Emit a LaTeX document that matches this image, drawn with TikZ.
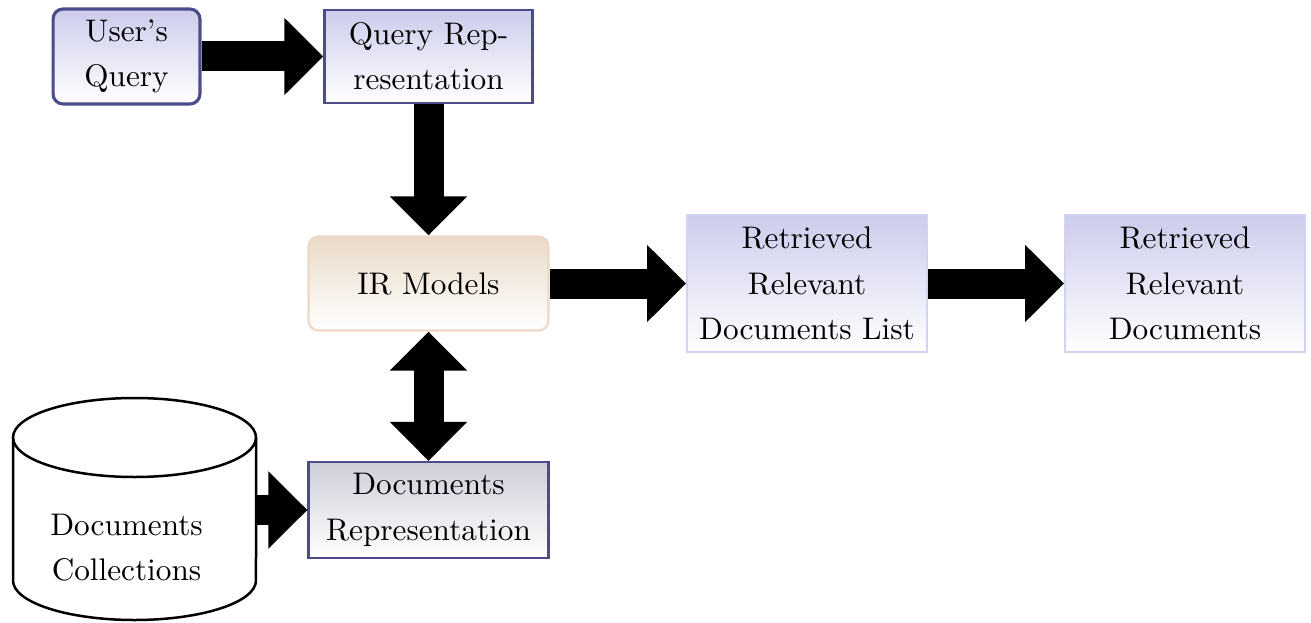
\documentclass[tikz,border=0pt]{standalone}
\usetikzlibrary{arrows.meta}
\definecolor{edgeblue}{RGB}{76,76,140}
\definecolor{lavtop}{RGB}{204,204,236}
\definecolor{lavedge}{RGB}{210,210,242}
\definecolor{tantop}{RGB}{234,218,200}
\definecolor{tanedge}{RGB}{236,216,196}
\definecolor{greytop}{RGB}{206,206,218}
\tikzset{
  boxtext/.style={font=\fontsize{10}{14.5}\selectfont, align=center, inner sep=0pt},
  querybox/.style={boxtext, draw=edgeblue, line width=1pt, rounded corners=3.2pt,
    top color=lavtop, bottom color=white, minimum width=47pt, minimum height=30.4pt},
  repbox/.style={boxtext, draw=edgeblue, line width=0.7pt,
    top color=lavtop, bottom color=white},
  docrepbox/.style={boxtext, draw=edgeblue, line width=0.7pt,
    top color=greytop, bottom color=white, minimum width=76.8pt, minimum height=30.7pt},
  modelbox/.style={boxtext, draw=tanedge, line width=0.7pt, rounded corners=3.2pt,
    top color=tantop, bottom color=white, minimum width=76.8pt, minimum height=30.1pt},
  resultbox/.style={boxtext, draw=lavedge, line width=0.6pt,
    top color=lavtop, bottom color=white, minimum width=76.8pt, minimum height=43.8pt},
  bigarrow/.style={line width=9.6pt, -{Triangle[length=12.5pt, width=24pt]}},
  dblarrow/.style={line width=9.6pt, {Triangle[length=12.5pt, width=24pt]}-{Triangle[length=12.5pt, width=24pt]}},
  cylline/.style={line width=0.8pt}
}
\begin{document}
\begin{tikzpicture}[x=0.32pt, y=-0.32pt]
  \useasboundingbox (0,0) rectangle (1311,622);

  % query side
  \node[querybox] (uq) at (126.5,56.5) {User's\\Query};
  \node[repbox, minimum width=66.6pt, minimum height=29.8pt] (qr) at (428.5,56.5) {Query Rep-\\resentation};

  % retrieval model and results
  \node[modelbox] (ir) at (428.5,283.5) {IR Models};
  \node[resultbox] (rl) at (807,283.5) {Retrieved\\Relevant\\Documents List};
  \node[resultbox] (rd) at (1185,283.5) {Retrieved\\Relevant\\Documents};

  % document side
  \node[docrepbox] (dr) at (428.5,510) {Documents\\Representation};
  \node[minimum width=77.76pt, minimum height=70.4pt, inner sep=0pt] (cyl) at (134.5,510) {};
  \draw[cylline] (134.5,437.5) ellipse[x radius=38.88pt, y radius=12.64pt];
  \draw[cylline] (13,437.5) -- (13,580.5)
    arc[start angle=180, end angle=360, x radius=38.88pt, y radius=12.64pt]
    -- (256,437.5);
  \node[boxtext] (dctext) at (126.5,548) {Documents\\Collections};

  % flow arrows
  \draw[bigarrow] (uq) -- (qr);
  \draw[bigarrow] (qr) -- (ir);
  \draw[bigarrow] (ir) -- (rl);
  \draw[bigarrow] (rl) -- (rd);
  \draw[dblarrow] (ir) -- (dr);
  \draw[bigarrow] (cyl) -- (dr);
\end{tikzpicture}
\end{document}
